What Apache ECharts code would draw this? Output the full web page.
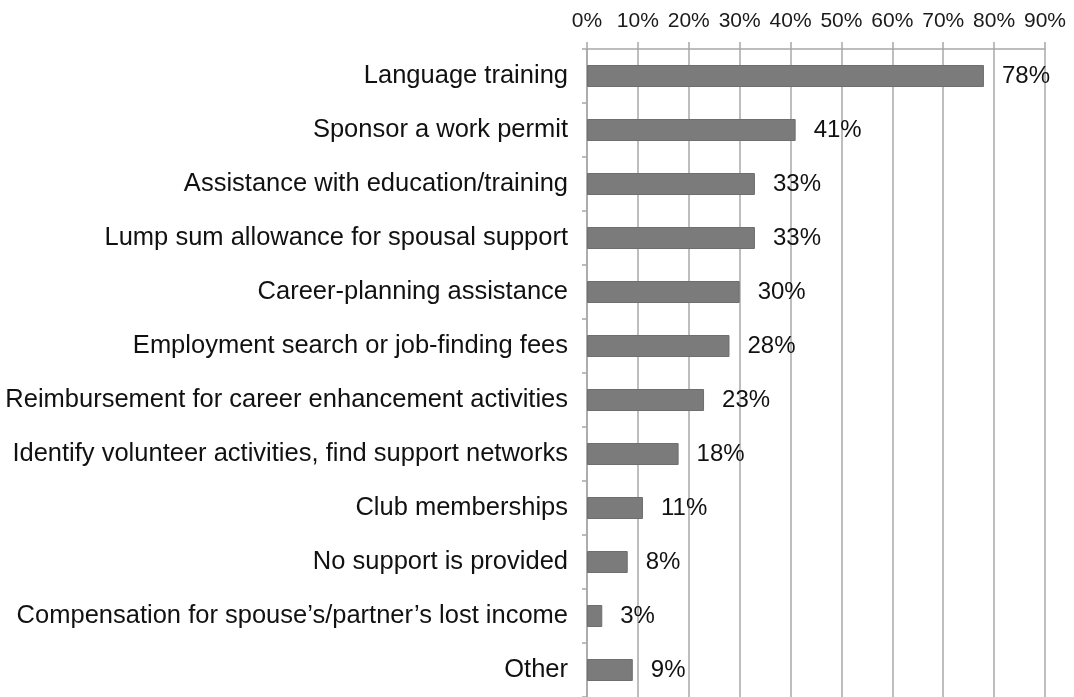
<!DOCTYPE html>
<html><head><meta charset="utf-8">
<script src="https://cdn.jsdelivr.net/npm/echarts@6/dist/echarts.min.js"></script>
<style>html,body{margin:0;padding:0;background:#fff}#c{width:1074px;height:697px}</style>
</head><body><div id="c"></div>
<script>
const categories = [
  "Language training",
  "Sponsor a work permit",
  "Assistance with education/training",
  "Lump sum allowance for spousal support",
  "Career-planning assistance",
  "Employment search or job-finding fees",
  "Reimbursement for career enhancement activities",
  "Identify volunteer activities, find support networks",
  "Club memberships",
  "No support is provided",
  "Compensation for spouse\u2019s/partner\u2019s lost income",
  "Other"
];
const values = [78, 41, 33, 33, 30, 28, 23, 18, 11, 8, 3, 9];
const tickMax = 90;
const tickStep = 10;

const chart = echarts.init(document.getElementById('c'));
chart.setOption({
  animation: false,
  grid: { left: 587, right: 29, top: 49, bottom: 0, containLabel: false },
  xAxis: {
    type: 'value', position: 'top', min: 0, max: tickMax, interval: tickStep,
    axisLine: { show: true, lineStyle: { color: '#a8a8a8', width: 1.5 } },
    axisTick: { show: true, length: 7, lineStyle: { color: '#a8a8a8', width: 1.5 } },
    axisLabel: { formatter: '{value}%', color: '#1a1a1a', fontFamily: 'Liberation Sans', fontSize: 21, margin: 17 },
    splitLine: { show: true, lineStyle: { color: '#a8a8a8', width: 1.5 } }
  },
  yAxis: {
    type: 'category', inverse: true, data: categories,
    axisLine: { show: true, lineStyle: { color: '#a8a8a8', width: 1.5 } },
    axisTick: { show: true, length: 5, lineStyle: { color: '#a8a8a8', width: 1.5 } },
    axisLabel: { color: '#111', fontFamily: 'Liberation Sans', fontSize: 25.5, margin: 19 }
  },
  series: [{
    type: 'bar', data: values, barWidth: 22,
    itemStyle: { color: '#7b7b7b', borderColor: '#6e6e6e', borderWidth: 1 },
    label: { show: true, position: 'right', distance: 18, formatter: '{c}%', color: '#111', fontFamily: 'Liberation Sans', fontSize: 24 }
  }]
});
</script></body></html>
